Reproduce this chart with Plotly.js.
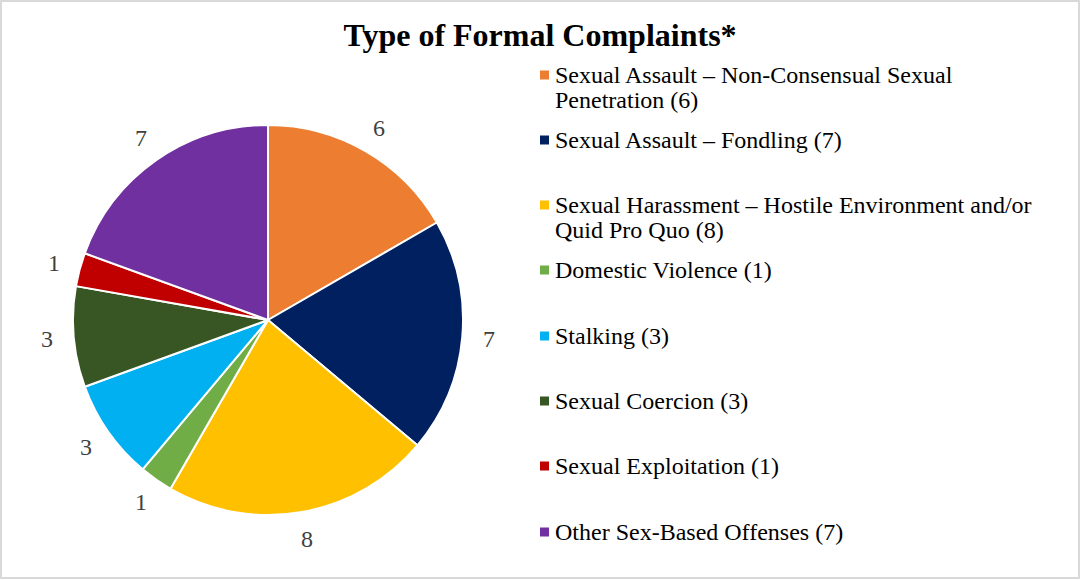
<!DOCTYPE html>
<html><head><meta charset="utf-8">
<script src="https://cdn.plot.ly/plotly-3.0.1.min.js"></script>
<style>html,body{margin:0;padding:0;background:#fff}#chart{width:1080px;height:580px}</style>
</head><body><div id="chart"></div>
<script>
const categories = [
  "Sexual Assault – Non-Consensual Sexual Penetration",
  "Sexual Assault – Fondling",
  "Sexual Harassment – Hostile Environment and/or Quid Pro Quo",
  "Domestic Violence",
  "Stalking",
  "Sexual Coercion",
  "Sexual Exploitation",
  "Other Sex-Based Offenses"
];
const legendLabels = [
  "Sexual Assault – Non-Consensual Sexual<br>Penetration (6)",
  "Sexual Assault – Fondling (7)",
  "Sexual Harassment – Hostile Environment and/or<br>Quid Pro Quo (8)",
  "Domestic Violence (1)",
  "Stalking (3)",
  "Sexual Coercion (3)",
  "Sexual Exploitation (1)",
  "Other Sex-Based Offenses (7)"
];
const values = [6, 7, 8, 1, 3, 3, 1, 7];
const colors = ["#ED7D31", "#002060", "#FFC000", "#70AD47", "#00B0F0", "#375623", "#C00000", "#7030A0"];

const W = 1080, H = 580;
const FONT = "Liberation Serif, Times New Roman, serif";

// pie geometry (pixels)
const CX = 268, CY = 320, R = 195, LABEL_R = 222;

const annotations = [];
const shapes = [];

// value labels outside each slice, placed at the slice's mid-angle
const total = values.reduce((a, b) => a + b, 0);
let cum = 0;
values.forEach((v) => {
  const mid = (cum + v / 2) / total * 2 * Math.PI;
  cum += v;
  const px = CX + LABEL_R * Math.sin(mid);
  const py = CY - LABEL_R * Math.cos(mid);
  annotations.push({
    xref: "paper", yref: "paper", x: px / W, y: 1 - py / H,
    xanchor: "center", yanchor: "middle", showarrow: false,
    text: String(v), font: {family: FONT, size: 24, color: "#404040"}
  });
});

// legend (pixel rows of the first line of each entry)
const legendRowsPx = [75, 140, 205, 270, 336, 401, 466, 532];
const lineGapPx = 25;
legendLabels.forEach((t, i) => {
  const yc = legendRowsPx[i];
  t.split("<br>").forEach((line, k) => {
    annotations.push({
      xref: "paper", yref: "paper", x: 553 / W, y: 1 - (yc + k * lineGapPx) / H,
      xanchor: "left", yanchor: "middle", align: "left", showarrow: false,
      text: line, font: {family: FONT, size: 24, color: "#000"}
    });
  });
  shapes.push({
    type: "rect", xref: "paper", yref: "paper",
    x0: 540 / W, x1: 549 / W, y0: 1 - (yc - 4.5) / H, y1: 1 - (yc + 4.5) / H,
    fillcolor: colors[i], line: {width: 0}
  });
});
shapes.push({
  type: "rect", xref: "paper", yref: "paper", x0: 1 / W, x1: 1 - 1 / W, y0: 2 / H, y1: 1 - 1 / H,
  line: {color: "#d9d9d9", width: 2}, fillcolor: "rgba(0,0,0,0)", layer: "below"
});

const data = [{
  type: "pie",
  labels: categories,
  values: values,
  sort: false,
  direction: "clockwise",
  rotation: 0,
  marker: {colors: colors, line: {color: "#fff", width: 2}},
  textinfo: "none",
  showlegend: false,
  automargin: false,
  domain: {x: [(CX - R) / W, (CX + R) / W], y: [1 - (CY + R) / H, 1 - (CY - R) / H]}
}];

const layout = {
  width: W, height: H,
  margin: {l: 0, r: 0, t: 0, b: 0},
  paper_bgcolor: "#fff",
  showlegend: false,
  title: {
    text: "<b>Type of Formal Complaints*</b>",
    font: {family: FONT, size: 32, color: "#000"},
    x: 540 / W, xanchor: "center", y: 1 - 35 / H, yanchor: "middle"
  },
  annotations: annotations,
  shapes: shapes
};

Plotly.newPlot("chart", data, layout, {displayModeBar: false, staticPlot: true});
</script>
</body></html>
